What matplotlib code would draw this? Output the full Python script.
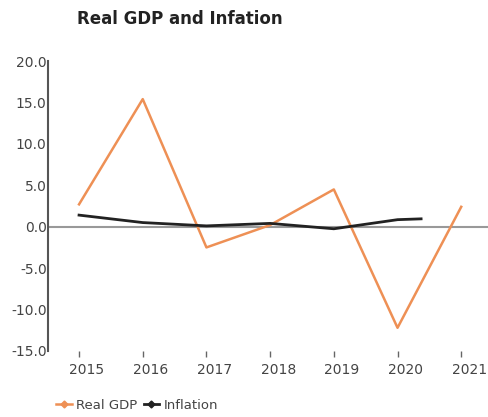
import matplotlib.pyplot as plt
import matplotlib.transforms as mtransforms
from matplotlib.lines import Line2D

# Annual figures (%)
years = [2015, 2016, 2017, 2018, 2019, 2020, 2021]
real_gdp = [2.7, 15.4, -2.5, 0.2, 4.5, -12.2, 2.4]

inflation_x = [2015, 2016, 2017, 2018, 2019, 2020, 2020.37]
inflation = [1.4, 0.5, 0.1, 0.4, -0.25, 0.85, 0.95]

y_ticks = [20.0, 15.0, 10.0, 5.0, 0.0, -5.0, -10.0, -15.0]

GDP_COLOR = '#ee9055'
INF_COLOR = '#222222'
TEXT_COLOR = '#444444'

plt.rcParams['font.family'] = ['DejaVu Sans']

fig = plt.figure(figsize=(4.89, 4.17), dpi=100)
ax = fig.add_axes([0.0982, 0.1583, 0.9018, 0.6954])

ax.axhline(0, color='#999999', linewidth=1.5, zorder=1)
ax.plot(years, real_gdp, color=GDP_COLOR, linewidth=1.8, zorder=2)
ax.plot(inflation_x, inflation, color=INF_COLOR, linewidth=2.0, zorder=3)

ax.set_xlim(2014.513, 2021.436)
ax.set_ylim(-15, 20)
ax.set_yticks(y_ticks)
ax.set_yticklabels([f'{v:.1f}' for v in y_ticks])
ax.set_xticks(years)
ax.set_xticklabels([str(y) for y in years])

for side in ['top', 'right', 'bottom']:
    ax.spines[side].set_visible(False)
ax.spines['left'].set_color('#555555')
ax.spines['left'].set_linewidth(1.5)

ax.tick_params(axis='y', length=0, pad=1, labelsize=10, labelcolor=TEXT_COLOR)
ax.tick_params(axis='x', length=4, width=1, color='#666666', pad=5,
               labelsize=10, labelcolor=TEXT_COLOR)

# nudge year labels a little to the right of their ticks
offset = mtransforms.ScaledTranslation(8 / 100, 0, fig.dpi_scale_trans)
for lbl in ax.get_xticklabels():
    lbl.set_transform(lbl.get_transform() + offset)

fig.text(0.157, 0.955, 'Real GDP and Infation', fontsize=12, fontweight='bold',
         color='#222222', va='center', ha='left')

handles = [
    Line2D([], [], color=GDP_COLOR, linewidth=1.8, marker='D', markersize=3.5),
    Line2D([], [], color=INF_COLOR, linewidth=2.0, marker='D', markersize=3.5),
]
fig.legend(handles, ['Real GDP', 'Inflation'], loc='center left',
           bbox_to_anchor=(0.09, 0.028), ncol=2, frameon=False,
           fontsize=9.5, handlelength=1.2, handletextpad=0.3, columnspacing=0.5,
           labelcolor=TEXT_COLOR)

fig.savefig('out.png', dpi=100)
